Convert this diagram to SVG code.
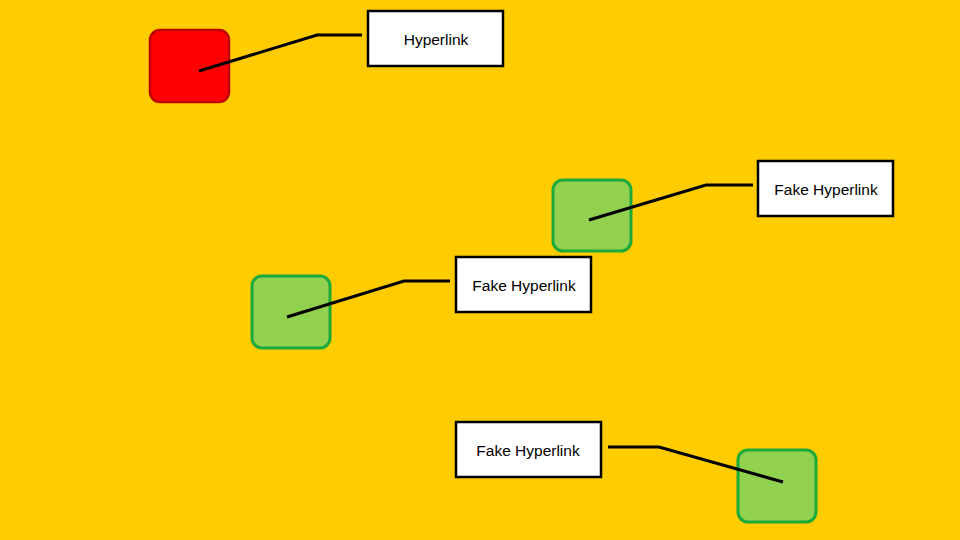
<svg xmlns="http://www.w3.org/2000/svg" width="960" height="540" viewBox="0 0 960 540">
<style>
.red{fill:#FF0000;stroke:#C00000;stroke-width:2.5}
.green{fill:#92D050;stroke:#1DAA3A;stroke-width:3}
.label{fill:#FFFFFF;stroke:#000000;stroke-width:2.5}
.t{font-family:"Liberation Sans",Arial,sans-serif;font-size:15.5px;fill:#000;text-anchor:middle;dominant-baseline:central}
.c{fill:none;stroke:#000;stroke-width:3;stroke-linejoin:miter}
</style>
<rect width="960" height="540" fill="#FFCC00"/>
<g id="node-red"><rect class="red" x="150" y="30" width="79" height="72" rx="10"/></g>
<g id="node-hyperlink"><rect class="label" x="368" y="11" width="135" height="55"/><text class="t" x="436" y="39">Hyperlink</text></g>
<g id="node-green1"><rect class="green" x="553" y="180" width="78" height="71" rx="10"/></g>
<g id="node-fake1"><rect class="label" x="758" y="161" width="135" height="55"/><text class="t" x="826" y="189">Fake Hyperlink</text></g>
<g id="node-green2"><rect class="green" x="252" y="276" width="78" height="72" rx="10"/></g>
<g id="node-fake2"><rect class="label" x="456" y="257" width="135" height="55"/><text class="t" x="524" y="285">Fake Hyperlink</text></g>
<g id="node-green3"><rect class="green" x="738" y="450" width="78" height="72" rx="10"/></g>
<g id="node-fake3"><rect class="label" x="456" y="422" width="145" height="55"/><text class="t" x="528" y="450">Fake Hyperlink</text></g>
<g id="connectors">
<polyline class="c" points="199,71 317,35 362,35"/>
<polyline class="c" points="589,220 706,185 753,185"/>
<polyline class="c" points="287,317 404,281 450,281"/>
<polyline class="c" points="783,482 659,447 608,447"/>
</g>
</svg>
